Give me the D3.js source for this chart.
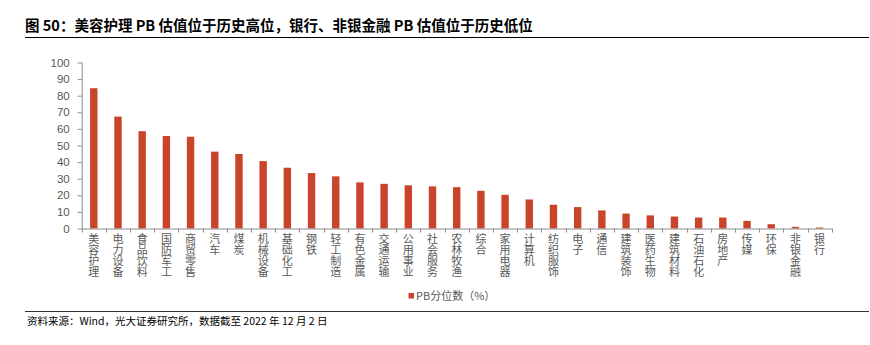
<!DOCTYPE html>
<html>
<head>
<meta charset="utf-8">
<script src="https://cdn.jsdelivr.net/npm/d3@7"></script>
<style>
  html, body { margin: 0; padding: 0; background: #fff; }
  svg { display: block; }
  .vlab { writing-mode: vertical-rl; text-orientation: upright; }
</style>
</head>
<body>
<svg id="chart" width="870" height="345"></svg>
<script>
const titleText = "图 50：美容护理 PB 估值位于历史高位，银行、非银金融 PB 估值位于历史低位";
const sourceText = "资料来源：Wind，光大证券研究所，数据截至 2022 年 12 月 2 日";
const seriesName = "PB分位数（%）";
const categories = ["美容护理","电力设备","食品饮料","国防军工","商贸零售","汽车","煤炭","机械设备","基础化工","钢铁","轻工制造","有色金属","交通运输","公用事业","社会服务","农林牧渔","综合","家用电器","计算机","纺织服饰","电子","通信","建筑装饰","医药生物","建筑材料","石油石化","房地产","传媒","环保","非银金融","银行"];
const values = [84.5,67.4,58.6,55.7,55.3,46.3,44.9,40.6,36.6,33.4,31.4,27.8,26.9,26.0,25.4,24.9,22.7,20.3,17.5,14.3,12.9,10.9,9.0,7.9,7.2,6.6,6.6,4.6,2.6,1.0,0.6];
const yTicks = [0,10,20,30,40,50,60,70,80,90,100];

const svg = d3.select("#chart");
const barColor = "#C8442A";
const axisColor = "#8c8c8c";
const textColor = "#595959";
const cjk = "'Noto Sans CJK SC', 'Noto Sans', sans-serif";
const latin = "'Liberation Sans', Arial, 'Noto Sans CJK SC', sans-serif";

// Title
svg.append("text").attr("x", 25).attr("y", 31)
  .attr("font-family", cjk).attr("font-weight", "bold").attr("font-size", 14.5)
  .attr("fill", "#000").text(titleText);
svg.append("line").attr("x1", 25).attr("x2", 869).attr("y1", 37.5).attr("y2", 37.5)
  .attr("stroke", "#000").attr("stroke-width", 1);

const xb = d3.scaleBand().domain(categories).range([81.7, 831.7]);
const y = d3.scaleLinear().domain([0, 100]).range([228.5, 62.5]);

// Bars
svg.append("g").selectAll("rect").data(values).join("rect")
  .attr("x", (d, i) => xb(categories[i]) + xb.bandwidth() / 2 - 3.7)
  .attr("width", 7.4)
  .attr("y", d => y(d))
  .attr("height", d => y(0) - y(d))
  .attr("fill", barColor);

// Y axis
const yAxis = svg.append("g").attr("transform", "translate(81.7,0)")
  .call(d3.axisLeft(y).tickValues(yTicks).tickSize(4).tickPadding(8).tickFormat(d3.format("d")));
yAxis.select(".domain").attr("stroke", axisColor).attr("d", "M0.5," + y(100) + "V" + y(0));
yAxis.selectAll(".tick line").attr("stroke", axisColor);
yAxis.selectAll(".tick text").attr("fill", textColor).attr("font-family", latin).attr("font-size", 11.5);

// X axis baseline and ticks between categories
const xAxis = svg.append("g").attr("transform", "translate(0," + y(0) + ")");
xAxis.append("line").attr("x1", 81.7).attr("x2", 831.7).attr("y1", 0.5).attr("y2", 0.5)
  .attr("stroke", axisColor);
const bounds = categories.map(c => xb(c)).concat([xb(categories[categories.length - 1]) + xb.bandwidth()]);
xAxis.selectAll("line.tk").data(bounds).join("line").attr("class", "tk")
  .attr("x1", d => Math.round(d) + 0.5).attr("x2", d => Math.round(d) + 0.5)
  .attr("y1", 0).attr("y2", 4).attr("stroke", axisColor);

// Category labels (vertical text)
svg.append("g").selectAll("text").data(categories).join("text")
  .attr("class", "vlab")
  .attr("x", c => xb(c) + xb.bandwidth() / 2)
  .attr("y", 233)
  .attr("font-family", cjk).attr("font-size", 11).attr("fill", textColor)
  .text(c => c);

// Legend
svg.append("rect").attr("x", 408.5).attr("y", 293).attr("width", 5.5).attr("height", 5.5).attr("fill", barColor);
svg.append("text").attr("x", 416).attr("y", 300).attr("font-family", cjk).attr("font-size", 11)
  .attr("fill", textColor).text(seriesName);

// Footer
svg.append("line").attr("x1", 25).attr("x2", 869).attr("y1", 311.5).attr("y2", 311.5)
  .attr("stroke", "#333").attr("stroke-width", 1);
svg.append("text").attr("x", 27).attr("y", 325).attr("font-family", cjk).attr("font-size", 10.5)
  .attr("fill", "#000").text(sourceText);
</script>
</body>
</html>
